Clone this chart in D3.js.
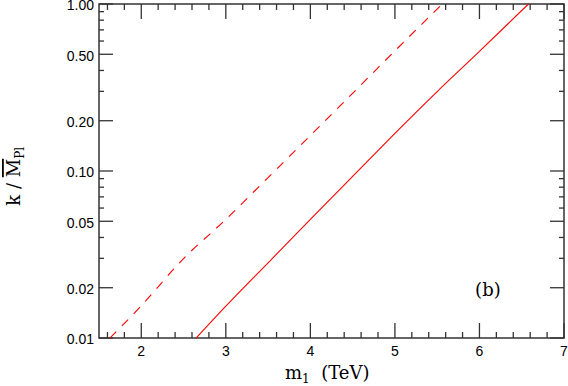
<!DOCTYPE html>
<html>
<head>
<meta charset="utf-8">
<script src="https://cdn.jsdelivr.net/npm/d3@7"></script>
<style>
  body { margin: 0; background: #fff; }
  .tick-label { font-family: "Liberation Sans", Arial, sans-serif; font-size: 14px; fill: #000; }
  .title { font-family: "DejaVu Serif", serif; font-size: 18px; fill: #000; }
</style>
</head>
<body>
<script>
// k/MPl vs m1 curves
var solidM = [2.65, 3.0, 3.5, 4.0, 4.5, 5.0, 5.5, 6.0, 6.58];
var solidK = [0.01, 0.0155, 0.0282, 0.0513, 0.0929, 0.168, 0.299, 0.52, 1.0];
var dashM = [1.63, 2.0, 2.5, 3.0, 3.5, 4.0, 4.5, 5.0, 5.56];
var dashK = [0.01, 0.0156, 0.0299, 0.0513, 0.0914, 0.163, 0.292, 0.524, 1.0];

var xMajor = [2, 3, 4, 5, 6, 7];
var yMajor = [0.01, 0.02, 0.05, 0.1, 0.2, 0.5, 1];
var yLabels = ["0.01", "0.02", "0.05", "0.10", "0.20", "0.50", "1.00"];

var margin = {top: 4, right: 4, bottom: 48, left: 99},
  width = 568 - margin.left - margin.right,
  height = 386 - margin.top - margin.bottom;

var svg = d3.select("body").append("svg")
  .attr("width", 568)
  .attr("height", 386)
  .append("g")
  .attr("transform", "translate(" + margin.left + "," + margin.top + ")");

var x = d3.scaleLinear().domain([1.5, 7]).range([0, width]);
var y = d3.scaleLog().domain([0.01, 1]).range([height, 0]);

// minor tick values
var xMinor = d3.range(16, 70, 2).map(function(d){ return d / 10; })
  .filter(function(d){ return xMajor.indexOf(d) < 0; });
var yMinor = [];
[0.01, 0.1].forEach(function(dec){
  for (var i = 1; i <= 9; i++) {
    var v = +(dec * i).toFixed(4);
    if (yMajor.indexOf(v) < 0) yMinor.push(v);
  }
});

var axisColor = "#333";

function xTicks(sel, vals, len, dir) {
  sel.selectAll(null).data(vals).enter().append("line")
    .attr("x1", function(d){ return x(d); })
    .attr("x2", function(d){ return x(d); })
    .attr("y1", 0).attr("y2", dir * len)
    .attr("stroke", axisColor).attr("stroke-width", 1.3);
}
function yTicks(sel, vals, len, dir) {
  sel.selectAll(null).data(vals).enter().append("line")
    .attr("y1", function(d){ return y(d); })
    .attr("y2", function(d){ return y(d); })
    .attr("x1", 0).attr("x2", dir * len)
    .attr("stroke", axisColor).attr("stroke-width", 1.3);
}

// bottom + top axes
var gBottom = svg.append("g").attr("transform", "translate(0," + height + ")");
xTicks(gBottom, xMajor, 15, -1);
xTicks(gBottom, xMinor, 6, -1);
gBottom.selectAll(null).data(xMajor).enter().append("text")
  .attr("class", "tick-label")
  .attr("x", function(d){ return x(d); })
  .attr("y", 18)
  .attr("text-anchor", "middle")
  .text(function(d){ return d; });

var gTop = svg.append("g");
xTicks(gTop, xMajor, 15, 1);
xTicks(gTop, xMinor, 6, 1);

// left + right axes
var gLeft = svg.append("g");
yTicks(gLeft, yMajor, 14, 1);
yTicks(gLeft, yMinor, 5, 1);
gLeft.selectAll(null).data(yMajor).enter().append("text")
  .attr("class", "tick-label")
  .attr("x", -5)
  .attr("y", function(d){ return y(d); })
  .attr("dy", "0.45em")
  .attr("text-anchor", "end")
  .text(function(d, i){ return yLabels[i]; });

var gRight = svg.append("g").attr("transform", "translate(" + width + ",0)");
yTicks(gRight, yMajor, 14, -1);
yTicks(gRight, yMinor, 5, -1);

// frame
svg.append("rect")
  .attr("width", width).attr("height", height)
  .attr("fill", "none").attr("stroke", axisColor).attr("stroke-width", 1.5);

// curves
var lineFun = d3.line()
  .x(function(d){ return x(d[0]); })
  .y(function(d){ return y(d[1]); })
  .curve(d3.curveMonotoneX);

svg.append("path")
  .datum(d3.zip(solidM, solidK))
  .attr("d", lineFun)
  .attr("fill", "none").attr("stroke", "#ff0000").attr("stroke-width", 1.1);

svg.append("path")
  .datum(d3.zip(dashM, dashK))
  .attr("d", lineFun)
  .attr("fill", "none").attr("stroke", "#ff0000").attr("stroke-width", 1.1)
  .attr("stroke-dasharray", "9,8");

// panel tag
svg.append("text")
  .attr("class", "title")
  .attr("x", x(6.1)).attr("y", y(0.0178))
  .attr("text-anchor", "middle")
  .text("(b)");

// x title
var xt = svg.append("text")
  .attr("class", "title")
  .attr("x", x(4.2)).attr("y", height + 41)
  .attr("text-anchor", "middle")
  .attr("xml:space", "preserve");
xt.append("tspan").text("m");
xt.append("tspan").attr("font-size", "12px").attr("dy", 4).text("1");
xt.append("tspan").attr("dy", -4).text("  (TeV)");

// y title
var yt = svg.append("text")
  .attr("class", "title")
  .attr("transform", "translate(" + (-79) + "," + y(0.093) + ") rotate(-90)")
  .attr("text-anchor", "middle");
yt.append("tspan").text("k / ");
yt.append("tspan").style("text-decoration", "overline").text("M");
yt.append("tspan").attr("font-size", "12px").attr("dy", 4).text("Pl");
</script>
</body>
</html>
